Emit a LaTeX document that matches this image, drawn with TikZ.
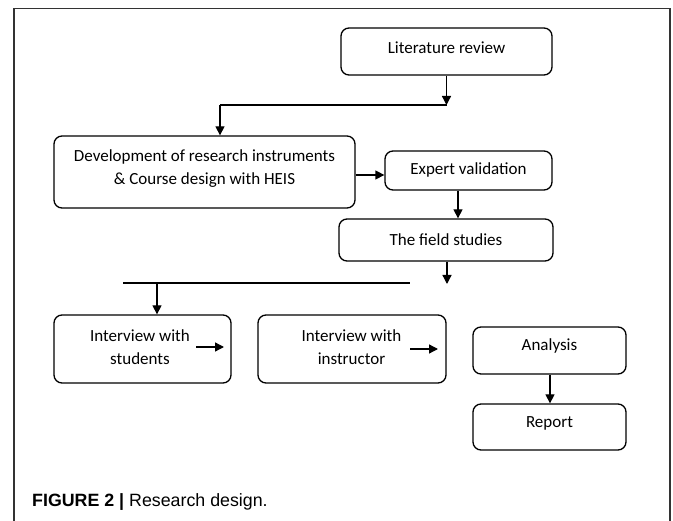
\documentclass[tikz,border=0pt]{standalone}
\usepackage{fontspec}
\setmainfont{Carlito}
\newfontfamily\capfont{Liberation Sans}
\usetikzlibrary{arrows.meta,calc}
\tikzset{
  box/.style={draw=black, line width=1.3pt, rounded corners=8pt, inner sep=0pt},
  txt/.style={inner sep=0pt, font=\fontsize{17}{23}\selectfont, align=center},
  arr/.style={line width=1.3pt, -{Triangle[length=9pt,width=9pt]}},
  ln/.style={line width=1.3pt},
  frame/.style={draw=black!80, line width=1.4pt}
}
\begin{document}
\begin{tikzpicture}[x=1pt,y=-1pt]
\useasboundingbox (0,0) rectangle (673,521);
\draw[frame] (14,521) -- (14,8.5) -- (670,8.5) -- (670,521);
\node[box, minimum width=211pt, minimum height=47pt] (lit) at (446.5,51.5) {};
\node[txt] (litt) at (446.5,47.5) {Literature review};
\node[box, minimum width=301pt, minimum height=72pt] (dev) at (204.5,172) {};
\node[txt] (devt) at (204.5,168.5) {Development of research instruments\\\& Course design with HEIS};
\node[box, minimum width=167pt, minimum height=39pt] (exp) at (468.5,170.5) {};
\node[txt] (expt) at (468.5,169.5) {Expert validation};
\node[box, minimum width=214pt, minimum height=42pt] (field) at (446,240) {};
\node[txt] (fieldt) at (446,239.5) {The field studies};
\node[box, minimum width=177pt, minimum height=68pt] (stud) at (142.5,349) {};
\node[txt] (studt) at (140,347) {Interview with\\students};
\node[box, minimum width=188pt, minimum height=68pt] (instr) at (352,349) {};
\node[txt] (instrt) at (351.5,347) {Interview with\\instructor};
\node[box, minimum width=153pt, minimum height=47pt] (ana) at (549.5,350.5) {};
\node[txt] (anat) at (549.5,346) {Analysis};
\node[box, minimum width=153pt, minimum height=46pt] (rep) at (549.5,427) {};
\node[txt] (rept) at (549.5,423.5) {Report};
\node[anchor=base west, inner sep=0pt, font=\capfont\fontsize{17.8}{20}\selectfont] (cap) at (32,507) {\textbf{FIGURE 2} \textbf{|} Research design.};
% connectors
\coordinate (j1) at (446.5,105);
\coordinate (j1b) at (220,105);
\draw[arr] (lit.south) -- (j1);
\draw[ln] (j1) -- (j1b);
\draw[arr] (j1b) -- (dev.north -| j1b);
\draw[arr] (dev.east |- 0,175) -- (exp.west |- 0,175);
\coordinate (ex) at (458,0);
\draw[arr] (exp.south -| ex) -- (field.north -| ex);
\coordinate (j2) at (447,284);
\draw[arr] (field.south -| j2) -- (j2);
\coordinate (h1) at (123,283);
\coordinate (h2) at (410,283);
\draw[ln] (h1) -- (h2);
\coordinate (hs) at (157,283);
\draw[arr] (hs) -- (stud.north -| hs);
\coordinate (a1s) at (196,347);
\coordinate (a1e) at (224,347);
\draw[arr] (a1s) -- (a1e);
\coordinate (a2s) at (410,349);
\coordinate (a2e) at (438,349);
\draw[arr] (a2s) -- (a2e);
\coordinate (ar) at (550,0);
\draw[arr] (ana.south -| ar) -- (rep.north -| ar);
\end{tikzpicture}
\end{document}
